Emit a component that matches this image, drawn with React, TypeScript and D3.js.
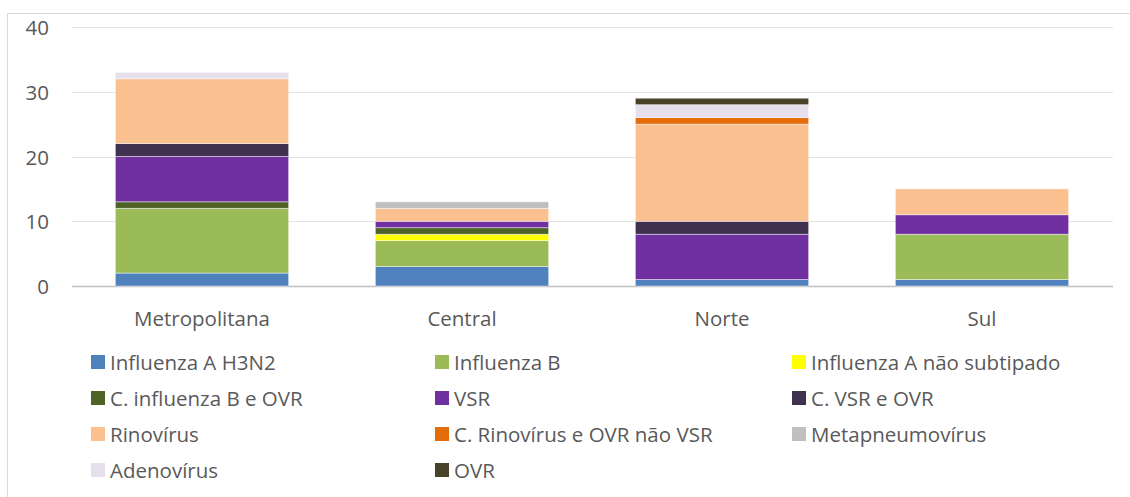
import * as d3 from "d3"

const regions = ["Metropolitana", "Central", "Norte", "Sul"]
const seriesNames = [
  "Influenza A H3N2",
  "Influenza B",
  "Influenza A não subtipado",
  "C. influenza B e OVR",
  "VSR",
  "C. VSR e OVR",
  "Rinovírus",
  "C. Rinovírus e OVR não VSR",
  "Metapneumovírus",
  "Adenovírus",
  "OVR",
]
const seriesColors = [
  "#4f81bd",
  "#9bbb59",
  "#ffff00",
  "#4f6228",
  "#7030a0",
  "#403151",
  "#fac090",
  "#e46c0a",
  "#bfbfbf",
  "#e6e0ec",
  "#494429",
]
// one array per series, values for Metropolitana, Central, Norte, Sul
const h3n2 = [2, 3, 1, 1]
const influenzaB = [10, 4, 0, 7]
const influenzaANs = [0, 1, 0, 0]
const coInfluenzaB = [1, 1, 0, 0]
const vsr = [7, 1, 7, 3]
const coVsr = [2, 0, 2, 0]
const rinovirus = [10, 2, 15, 4]
const coRinovirus = [0, 0, 1, 0]
const metapneumovirus = [0, 1, 0, 0]
const adenovirus = [1, 0, 2, 0]
const ovr = [0, 0, 1, 0]
const yTicks = [0, 10, 20, 30, 40]

const seriesValues = [
  h3n2,
  influenzaB,
  influenzaANs,
  coInfluenzaB,
  vsr,
  coVsr,
  rinovirus,
  coRinovirus,
  metapneumovirus,
  adenovirus,
  ovr,
]

const width = 1130
const height = 497
const font = "'Open Sans', sans-serif"
const fontSize = 20.5
const textColor = "#595959"

export default function App() {
  // table for d3.stack
  const rows = regions.map((r, i) => {
    const row: Record<string, any> = { region: r }
    seriesNames.forEach((s, j) => (row[s] = seriesValues[j][i]))
    return row
  })
  const stacked = d3.stack().keys(seriesNames)(rows as any)

  const x = d3
    .scaleBand()
    .domain(regions)
    .range([72, 1112])
    .paddingInner(1 / 3)
    .paddingOuter(1 / 6)
  const y = d3.scaleLinear().domain([0, 40]).range([286, 27])

  const legendCols = [91, 435, 792]
  const legendTop = 362
  const legendStep = 36

  return (
    <svg
      width={width}
      height={height}
      style={{ position: "absolute", left: 0, top: 0, background: "#fff" }}
      fontFamily={font}
    >
      {/* chart frame */}
      <line x1={7.5} y1={13.5} x2={width} y2={13.5} stroke="#d9d9d9" />
      <line x1={7.5} y1={13.5} x2={7.5} y2={height} stroke="#d9d9d9" />

      {/* gridlines and y labels */}
      {yTicks.map((t) => (
        <g key={t}>
          <line
            x1={72}
            x2={1113}
            y1={Math.round(y(t)) + 0.5}
            y2={Math.round(y(t)) + 0.5}
            stroke={t === 0 ? "#bfbfbf" : "#e3e3e3"}
            strokeWidth={t === 0 ? 1.5 : 1.2}
          />
          <text
            x={49}
            y={y(t)}
            textAnchor="end"
            dominantBaseline="central"
            fontSize={fontSize}
            fill={textColor}
          >
            {t}
          </text>
        </g>
      ))}

      {/* stacked bars */}
      {stacked.map((layer, j) => (
        <g key={seriesNames[j]} fill={seriesColors[j]}>
          {layer.map((d, i) =>
            d[1] - d[0] > 0 ? (
              <rect
                key={i}
                x={x(regions[i])}
                y={y(d[1])}
                width={x.bandwidth()}
                height={y(d[0]) - y(d[1])}
                stroke="#ffffff"
                strokeOpacity={0.6}
                strokeWidth={0.75}
              />
            ) : null
          )}
        </g>
      ))}

      {/* category labels */}
      {regions.map((r) => (
        <text
          key={r}
          x={(x(r) ?? 0) + x.bandwidth() / 2}
          y={318}
          textAnchor="middle"
          dominantBaseline="central"
          fontSize={fontSize}
          fill={textColor}
        >
          {r}
        </text>
      ))}

      {/* legend */}
      {seriesNames.map((s, i) => {
        const lx = legendCols[i % 3]
        const ly = legendTop + Math.floor(i / 3) * legendStep
        return (
          <g key={s}>
            <rect x={lx} y={ly - 7} width={14} height={14} fill={seriesColors[i]} />
            <text
              x={lx + 19}
              y={ly}
              dominantBaseline="central"
              fontSize={fontSize}
              fill={textColor}
            >
              {s}
            </text>
          </g>
        )
      })}
    </svg>
  )
}
